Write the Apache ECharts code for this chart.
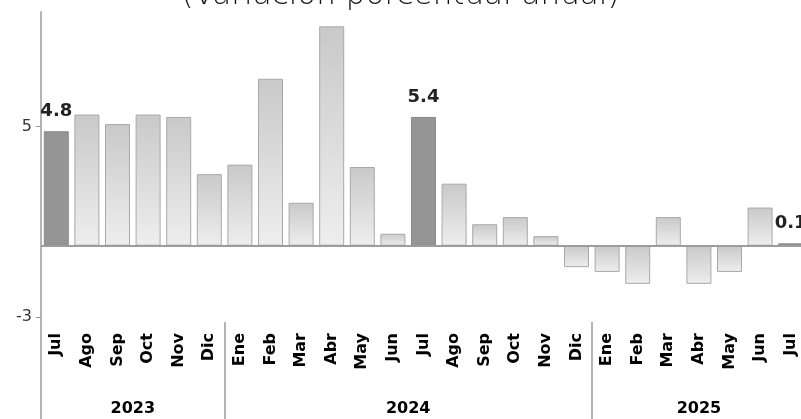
<!DOCTYPE html>
<html>
<head>
<meta charset="utf-8">
<script src="https://cdn.jsdelivr.net/npm/echarts@6/dist/echarts.min.js"></script>
<style>html,body{margin:0;padding:0;background:#fff}#c{width:801px;height:419px}</style>
</head>
<body>
<div id="c"></div>
<script>
var titleText = '(Variación porcentual anual)';
var categories = ['Jul','Ago','Sep','Oct','Nov','Dic','Ene','Feb','Mar','Abr','May','Jun','Jul','Ago','Sep','Oct','Nov','Dic','Ene','Feb','Mar','Abr','May','Jun','Jul'];
var categoryYears = ['2023','2023','2023','2023','2023','2023','2024','2024','2024','2024','2024','2024','2024','2024','2024','2024','2024','2024','2025','2025','2025','2025','2025','2025','2025'];
var values = [4.8,5.5,5.1,5.5,5.4,3.0,3.4,7.0,1.8,9.2,3.3,0.5,5.4,2.6,0.9,1.2,0.4,-0.9,-1.1,-1.6,1.2,-1.6,-1.1,1.6,0.1];
var yTickValues = [5, -3];
var highlightMonth = 'Jul';

// year spans derived from categoryYears
var yearNames = [], yearStart = [], yearEnd = [];
categoryYears.forEach(function (y, i) {
  if (yearNames.length === 0 || yearNames[yearNames.length - 1] !== y) {
    yearNames.push(y); yearStart.push(i); yearEnd.push(i + 1);
  } else {
    yearEnd[yearEnd.length - 1] = i + 1;
  }
});
var yearMids = yearNames.map(function (y, k) { return (yearStart[k] + yearEnd[k]) / 2; });
var boundaryIdx = [0].concat(yearStart.slice(1));

var normalFill = new echarts.graphic.LinearGradient(0, 0, 0, 1, [
  {offset: 0, color: '#c9c9c9'}, {offset: 1, color: '#eeeeee'}
]);
var data = values.map(function (v, i) {
  var hl = categories[i] === highlightMonth;
  return {
    value: v,
    itemStyle: hl ? {color: '#959595', borderColor: '#8a8a8a', borderWidth: 1}
                  : {color: normalFill, borderColor: '#a9a9a9', borderWidth: 1},
    label: {show: hl}
  };
});

var chart = echarts.init(document.getElementById('c'));
chart.setOption({
  animation: false,
  title: {
    text: titleText, left: 'center', top: -25,
    textStyle: {fontFamily: 'DejaVu Sans', fontWeight: 200, fontSize: 31, color: '#111'}
  },
  grid: {left: 41, right: -5, top: 12, bottom: 97, containLabel: false, outerBoundsMode: 'none'},
  xAxis: [{
    type: 'category', data: categories, boundaryGap: true,
    axisLine: {show: false, onZero: false},
    axisTick: {show: true, length: 97, interval: function (i) { return boundaryIdx.indexOf(i) >= 0; },
      lineStyle: {color: '#b4b4b4', width: 2}},
    axisLabel: {rotate: 90, interval: 0, margin: 11, fontFamily: 'DejaVu Sans', fontWeight: 'bold', fontSize: 16, color: '#000'}
  }, {
    type: 'value', min: 0, max: categories.length, position: 'bottom',
    axisLine: {show: false}, axisTick: {show: false}, splitLine: {show: false},
    axisLabel: {customValues: yearMids, margin: 79, fontFamily: 'DejaVu Sans', fontWeight: 'bold', fontSize: 16, color: '#000',
      formatter: function (v) { var k = yearMids.indexOf(v); return k >= 0 ? yearNames[k] : ''; }}
  }],
  yAxis: {
    type: 'value', min: -3.2, max: 9.8,
    axisLine: {show: true, lineStyle: {color: '#b4b4b4', width: 2}},
    axisTick: {show: true, customValues: yTickValues, length: 5, lineStyle: {color: '#999'}},
    axisLabel: {customValues: yTickValues, margin: 9, fontFamily: 'DejaVu Sans', fontSize: 16, color: '#333'},
    splitLine: {show: false}
  },
  series: [{
    type: 'bar', xAxisIndex: 0, data: data, barWidth: 25,
    label: {position: 'top', distance: 11, fontFamily: 'DejaVu Sans', fontWeight: 'bold', fontSize: 18, color: '#222',
      formatter: function (p) { return p.value.toFixed(1); }},
    markLine: {silent: true, symbol: 'none', label: {show: false},
      lineStyle: {color: '#9c9c9c', width: 2, type: 'solid'}, data: [{yAxis: 0}]}
  }]
});
</script>
</body>
</html>
